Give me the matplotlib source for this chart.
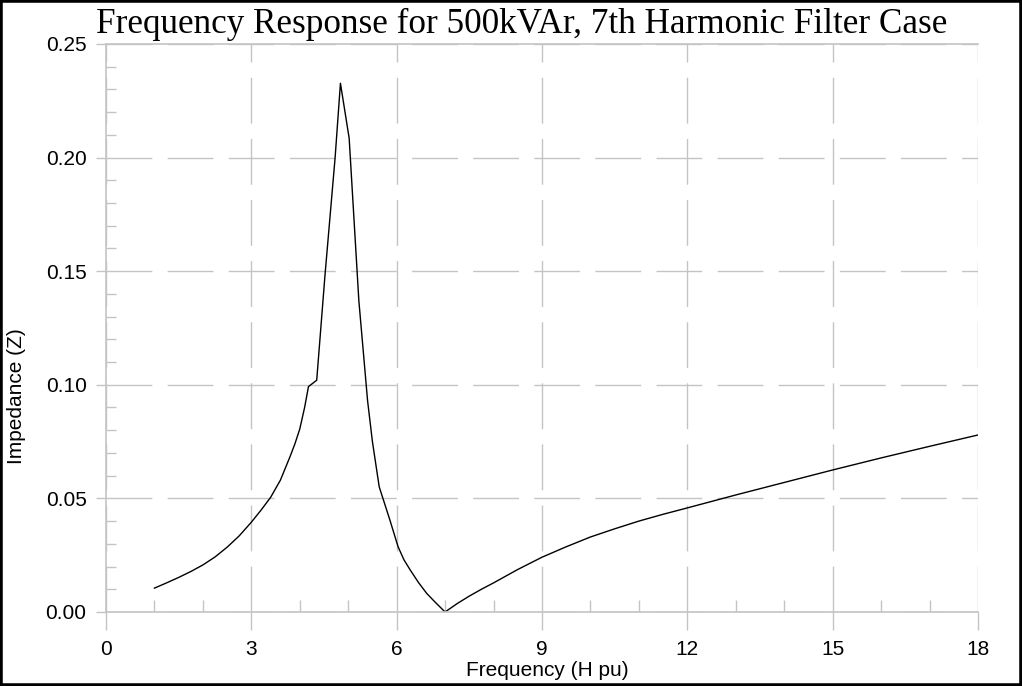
import numpy as np
from matplotlib import pyplot as plt
from matplotlib.patches import Rectangle
from matplotlib.ticker import MultipleLocator, FormatStrFormatter

# -------------------------------------------------
# Data (harmonic order vs |Z|)
# -------------------------------------------------
harmonic = [1.0, 1.25, 1.5, 1.75, 2.0, 2.25, 2.5, 2.75, 3.0, 3.2, 3.4, 3.6,
            3.8, 3.9, 4.0, 4.1, 4.18, 4.35, 4.52, 4.73, 4.84, 5.02, 5.22,
            5.40, 5.50, 5.64, 5.75, 5.86, 6.03, 6.15, 6.28, 6.45, 6.62, 6.80,
            7.0, 7.25, 7.5, 7.75, 8.0, 8.5, 9.0, 9.5, 10.0, 10.5, 11.0, 11.5,
            12.0, 13.0, 14.0, 15.0, 16.0, 17.0, 18.0]
impedance = [0.0105, 0.0128, 0.0152, 0.0178, 0.0207, 0.0242, 0.0285, 0.0335,
             0.0395, 0.0448, 0.0505, 0.0580, 0.0684, 0.0740, 0.0805, 0.0900,
             0.0992, 0.1020, 0.1480, 0.2000, 0.2327, 0.2085, 0.1370, 0.0930,
             0.0750, 0.0551, 0.0478, 0.0405, 0.0287, 0.0230, 0.0185, 0.0130,
             0.0082, 0.0042, 0.0000, 0.0037, 0.0070, 0.0100, 0.0128, 0.0187,
             0.0241, 0.0287, 0.0330, 0.0366, 0.0400, 0.0430, 0.0458, 0.0515,
             0.0570, 0.0625, 0.0678, 0.0729, 0.0779]

title = "Frequency Response for 500kVAr, 7th Harmonic Filter Case"
grey = "#c4c4c4"

fig = plt.figure(figsize=(10.22, 6.86), dpi=100)
ax = fig.add_axes([0.1037, 0.1079, 0.8532, 0.8280])

ax.plot(harmonic, impedance, color="black", linewidth=1.0)

ax.set_xlim(0, 18)
ax.set_ylim(0, 0.25)
ax.xaxis.set_major_locator(MultipleLocator(3))
ax.xaxis.set_minor_locator(MultipleLocator(1))
ax.yaxis.set_major_locator(MultipleLocator(0.05))
ax.yaxis.set_minor_locator(MultipleLocator(0.01))
ax.yaxis.set_major_formatter(FormatStrFormatter("%.2f"))

ax.grid(True, which="major", color=grey, linewidth=1.0, linestyle=(0, (33, 11)))

# axis frame: left, bottom, top in light grey, no right
for side in ("left", "bottom", "top"):
    ax.spines[side].set_color(grey)
    ax.spines[side].set_linewidth(1.2)
ax.spines["right"].set_visible(False)

ax.tick_params(axis="x", which="major", direction="out", length=13, width=1,
               color=grey, pad=7, labelsize=15, top=False)
ax.tick_params(axis="x", which="minor", direction="in", length=8.5, width=1,
               color=grey, top=False)
ax.tick_params(axis="y", which="major", direction="out", length=7, width=1,
               color=grey, pad=7, labelsize=15, right=False)
ax.tick_params(axis="y", which="minor", direction="in", length=7, width=1,
               color=grey, right=False)
for lab in ax.get_xticklabels() + ax.get_yticklabels():
    lab.set_family("Liberation Sans")

ax.set_xlabel("Frequency (H pu)", fontsize=15, family="Liberation Sans")
ax.set_ylabel("Impedance (Z)", fontsize=15, family="Liberation Sans")
ax.xaxis.set_label_coords(0.506, -0.0865)
ax.yaxis.set_label_coords(-0.0917, 0.38)

fig.text(0.51, 0.952, title, ha="center", va="baseline",
         fontsize=25.3, family="Liberation Serif")

# black frame round the whole picture
fig.patches.append(Rectangle((0, 0), 1, 1, transform=fig.transFigure,
                             fill=False, edgecolor="black", linewidth=4))

fig.savefig("out.png", dpi=100)
